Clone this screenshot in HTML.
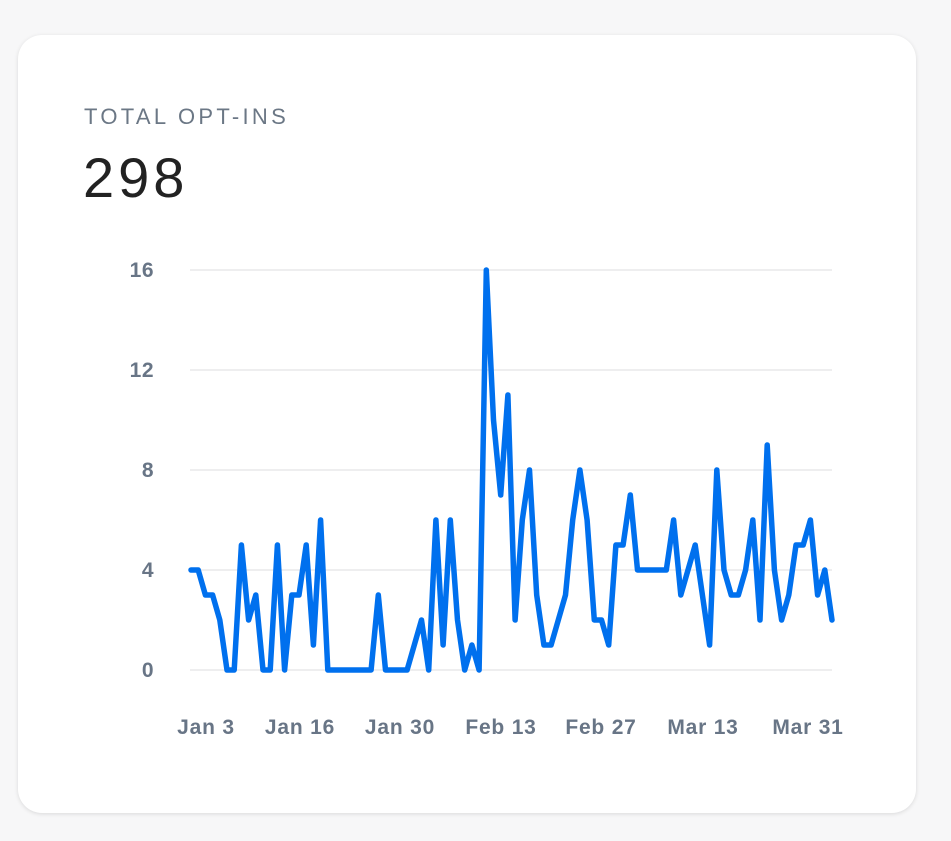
<!DOCTYPE html>
<html><head><style>
body{margin:0;background:#f7f7f8;width:951px;height:841px;overflow:hidden;font-family:"Liberation Sans",sans-serif;}
.card{position:absolute;left:18px;top:35px;width:898px;height:778px;background:#fff;border-radius:24px;box-shadow:0 1px 4px rgba(0,0,0,0.12);}
.t{position:absolute;left:84px;top:104px;font-size:22px;letter-spacing:3.3px;color:#6b7785;}
.n{position:absolute;left:83px;top:145px;font-size:56px;letter-spacing:4px;color:#222;}
</style></head><body>
<div class="card"></div>
<div class="t">TOTAL OPT-INS</div>
<div class="n">298</div>
<svg width="951" height="841" style="position:absolute;left:0;top:0">
<g stroke="#eeeeef" stroke-width="2">
<line x1="190" x2="832" y1="270" y2="270"/><line x1="190" x2="832" y1="370" y2="370"/><line x1="190" x2="832" y1="470" y2="470"/><line x1="190" x2="832" y1="570" y2="570"/><line x1="190" x2="832" y1="670" y2="670"/>
</g>
<g font-size="21" fill="#687586" font-weight="bold" text-anchor="end" font-family="Liberation Sans,sans-serif" letter-spacing="0.5">
<text x="154" y="277">16</text><text x="154" y="377">12</text><text x="154" y="477">8</text><text x="154" y="577">4</text><text x="154" y="677">0</text>
</g>
<g font-size="21" fill="#687586" font-weight="bold" text-anchor="middle" font-family="Liberation Sans,sans-serif" letter-spacing="0.8">
<text x="206" y="734">Jan 3</text><text x="300" y="734">Jan 16</text><text x="400" y="734">Jan 30</text><text x="501" y="734">Feb 13</text><text x="601" y="734">Feb 27</text><text x="703" y="734">Mar 13</text><text x="808" y="734">Mar 31</text>
</g>
<polyline id="p" fill="none" stroke="#0070ee" stroke-width="5.5" stroke-linejoin="round" stroke-linecap="round" points=""/>
</svg>
<script>
var v=[4,4,3,3,2,0,0,5,2,3,0,0,5,0,3,3,5,1,6,0,0,0,0,0,0,0,3,0,0,0,0,1,2,0,6,1,6,2,0,1,0,16,10,7,11,2,6,8,3,1,1,2,3,6,8,6,2,2,1,5,5,7,4,4,4,4,4,6,3,4,5,3,1,8,4,3,3,4,6,2,9,4,2,3,5,5,6,3,4,2];
var s=v.map(function(y,i){return (191+i*641/89).toFixed(1)+","+(670-y*25)}).join(" ");
document.getElementById("p").setAttribute("points",s);
</script>
</body></html>
